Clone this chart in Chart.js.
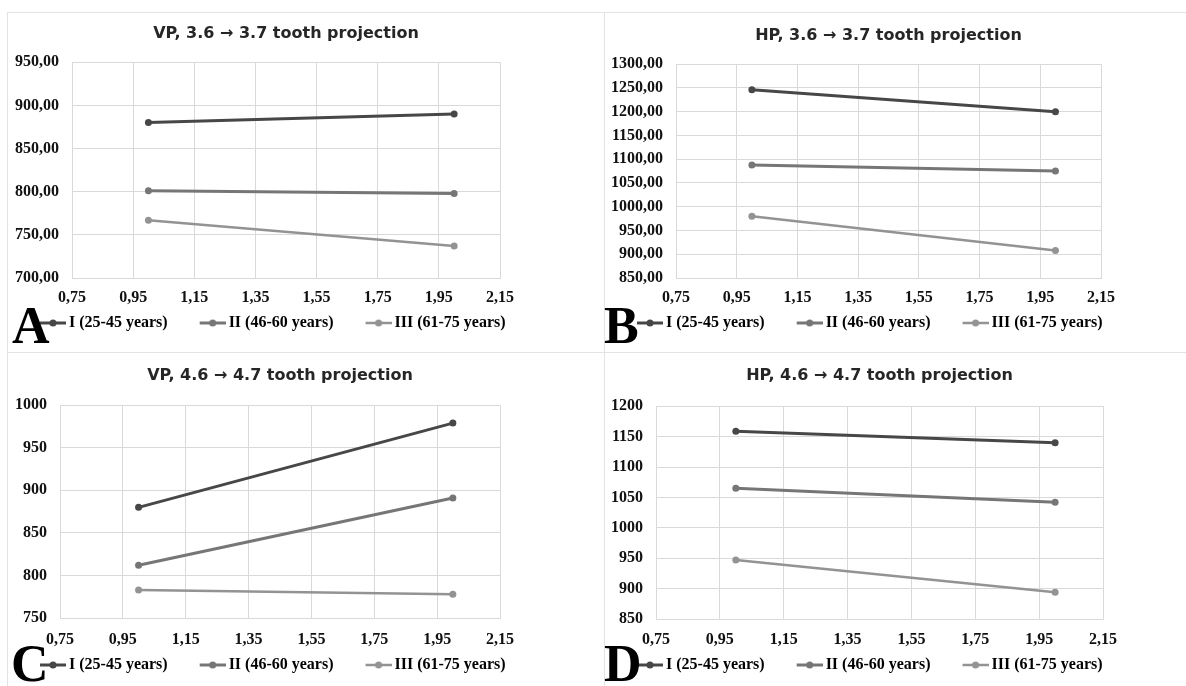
<!DOCTYPE html>
<html>
<head>
<meta charset="utf-8">
<script src="https://cdn.jsdelivr.net/npm/chart.js@4.4.1/dist/chart.umd.min.js"></script>
<style>
  body { margin: 0; background: #fff; width: 1186px; height: 686px; position: relative; overflow: hidden; }
  canvas { position: absolute; display: block; }
  .rule { position: absolute; background: #e3e3e3; }
  .tag { position: absolute; font-family: "Liberation Serif", "Times New Roman", serif; font-weight: bold;
         font-size: 52px; line-height: 52px; color: #000; z-index: 2; }
</style>
</head>
<body>
<!-- panel separators -->
<div class="rule" style="left:7px;top:12px;width:1179px;height:1px"></div>
<div class="rule" style="left:7px;top:352px;width:1179px;height:1px"></div>
<div class="rule" style="left:7px;top:12px;width:1px;height:674px"></div>
<div class="rule" style="left:604px;top:12px;width:1px;height:674px"></div>

<canvas id="chartA" width="596" height="339" style="left:8px;top:13px"></canvas>
<canvas id="chartB" width="581" height="339" style="left:605px;top:13px"></canvas>
<canvas id="chartC" width="596" height="333" style="left:8px;top:353px"></canvas>
<canvas id="chartD" width="581" height="333" style="left:605px;top:353px"></canvas>

<div class="tag" style="left:12px;top:300px">A</div>
<div class="tag" style="left:604px;top:300px">B</div>
<div class="tag" style="left:11px;top:638px">C</div>
<div class="tag" style="left:604px;top:638px">D</div>

<script>
// measurement points and x tick labels
const xPoints = [1, 2];
const xTicks = [0.75, 0.95, 1.15, 1.35, 1.55, 1.75, 1.95, 2.15];
const groupNames = ['I (25-45 years)', 'II (46-60 years)', 'III (61-75 years)'];

// A: VP, 3.6 -> 3.7
const vp37_I = [880, 890];
const vp37_II = [801, 798];
const vp37_III = [767, 737];
const vp37_yTicks = [700, 750, 800, 850, 900, 950];

// B: HP, 3.6 -> 3.7
const hp37_I = [1246, 1200];
const hp37_II = [1088, 1075];
const hp37_III = [980, 908];
const hp37_yTicks = [850, 900, 950, 1000, 1050, 1100, 1150, 1200, 1250, 1300];

// C: VP, 4.6 -> 4.7
const vp47_I = [880, 979];
const vp47_II = [812, 891];
const vp47_III = [783, 778];
const vp47_yTicks = [750, 800, 850, 900, 950, 1000];

// D: HP, 4.6 -> 4.7
const hp47_I = [1159, 1140];
const hp47_II = [1065, 1042];
const hp47_III = [947, 894];
const hp47_yTicks = [850, 900, 950, 1000, 1050, 1100, 1150, 1200];

const lineColors = ['#474747', '#767676', '#939393'];
const lineWidths = [3, 3, 2.5];
const gridColor = '#d9d9d9';
const tickFont = { family: '"Liberation Serif", serif', size: 16, weight: 'bold' };

// line+dot picture for the legend (empty left part = gap between items)
function legendMarker(color, width) {
    var c = document.createElement('canvas');
    c.width = 56;
    c.height = 10;
    var g = c.getContext('2d');
    g.strokeStyle = color;
    g.lineWidth = width;
    g.beginPath();
    g.moveTo(30, 5);
    g.lineTo(56, 5);
    g.stroke();
    g.fillStyle = color;
    g.beginPath();
    g.arc(43, 5, 3.5, 0, Math.PI * 2);
    g.fill();
    return c;
}
const markers = lineColors.map(function (c, i) { return legendMarker(c, lineWidths[i]) });

function fmt(v, decimals) {
    return Number(v).toFixed(decimals).replace('.', ',');
}

function makeChart(id, title, series, yTicks, decimals, box) {
    var ctx = document.getElementById(id).getContext('2d');
    return new Chart(ctx, {
        type: 'line',
        data: {
            datasets: series.map(function (vals, i) {
                return {
                    label: groupNames[i],
                    data: xPoints.map(function (x, j) { return { x: x, y: vals[j] } }),
                    borderColor: lineColors[i],
                    backgroundColor: lineColors[i],
                    borderWidth: lineWidths[i],
                    pointRadius: 3.5,
                    pointBorderWidth: 0,
                    fill: false,
                    tension: 0
                };
            })
        },
        options: {
            responsive: false,
            animation: false,
            layout: { padding: { left: 0, right: 0, top: 0, bottom: box.bottom } },
            plugins: {
                title: {
                    display: true,
                    fullSize: false,
                    text: title,
                    color: '#262626',
                    font: { family: '"DejaVu Sans", sans-serif', size: 16, weight: 'bold' },
                    padding: { top: box.tTop, bottom: box.tBot }
                },
                legend: {
                    position: 'bottom',
                    align: 'start',
                    labels: {
                        usePointStyle: true,
                        pointStyleWidth: 46,
                        padding: 7,
                        color: '#111',
                        font: { family: '"Liberation Serif", serif', size: 16, weight: 'bold' },
                        generateLabels: function (chart) {
                            return chart.data.datasets.map(function (ds, i) {
                                return { text: ds.label, pointStyle: markers[i], lineWidth: 0, hidden: false, datasetIndex: i };
                            });
                        }
                    }
                },
                tooltip: { enabled: false }
            },
            scales: {
                x: {
                    type: 'linear',
                    min: xTicks[0],
                    max: xTicks[xTicks.length - 1],
                    afterBuildTicks: function (s) { s.ticks = xTicks.map(function (v) { return { value: v } }) },
                    afterFit: function (s) {
                        s.paddingRight = box.right;
                        s.height = box.xh;
                    },
                    grid: { color: gridColor, drawTicks: false },
                    border: { color: gridColor },
                    ticks: {
                        padding: box.xPad, color: '#111', font: tickFont, autoSkip: false, maxRotation: 0,
                        callback: function (v) { return fmt(v, 2) }
                    }
                },
                y: {
                    min: yTicks[0],
                    max: yTicks[yTicks.length - 1],
                    afterBuildTicks: function (s) { s.ticks = yTicks.map(function (v) { return { value: v } }) },
                    afterFit: function (s) { s.width = box.yw },
                    grid: { color: gridColor, drawTicks: false },
                    border: { color: gridColor },
                    ticks: {
                        padding: 13, color: '#111', font: tickFont,
                        callback: function (v) { return fmt(v, decimals) }
                    }
                }
            }
        }
    });
}

makeChart('chartA', 'VP, 3.6 \u2192 3.7 tooth projection', [vp37_I, vp37_II, vp37_III], vp37_yTicks, 2,
    { yw: 64, right: 104, tTop: 11, tBot: 19, xPad: 10, xh: 30, bottom: 11 });
makeChart('chartB', 'HP, 3.6 \u2192 3.7 tooth projection', [hp37_I, hp37_II, hp37_III], hp37_yTicks, 2,
    { yw: 71, right: 85, tTop: 13, tBot: 19, xPad: 10, xh: 30, bottom: 11 });
makeChart('chartC', 'VP, 4.6 \u2192 4.7 tooth projection', [vp47_I, vp47_II, vp47_III], vp47_yTicks, 0,
    { yw: 52, right: 104, tTop: 13, tBot: 20, xPad: 12, xh: 32, bottom: 3 });
makeChart('chartD', 'HP, 4.6 \u2192 4.7 tooth projection', [hp47_I, hp47_II, hp47_III], hp47_yTicks, 0,
    { yw: 51, right: 83, tTop: 13, tBot: 21, xPad: 11, xh: 31, bottom: 3 });
</script>
</body>
</html>
